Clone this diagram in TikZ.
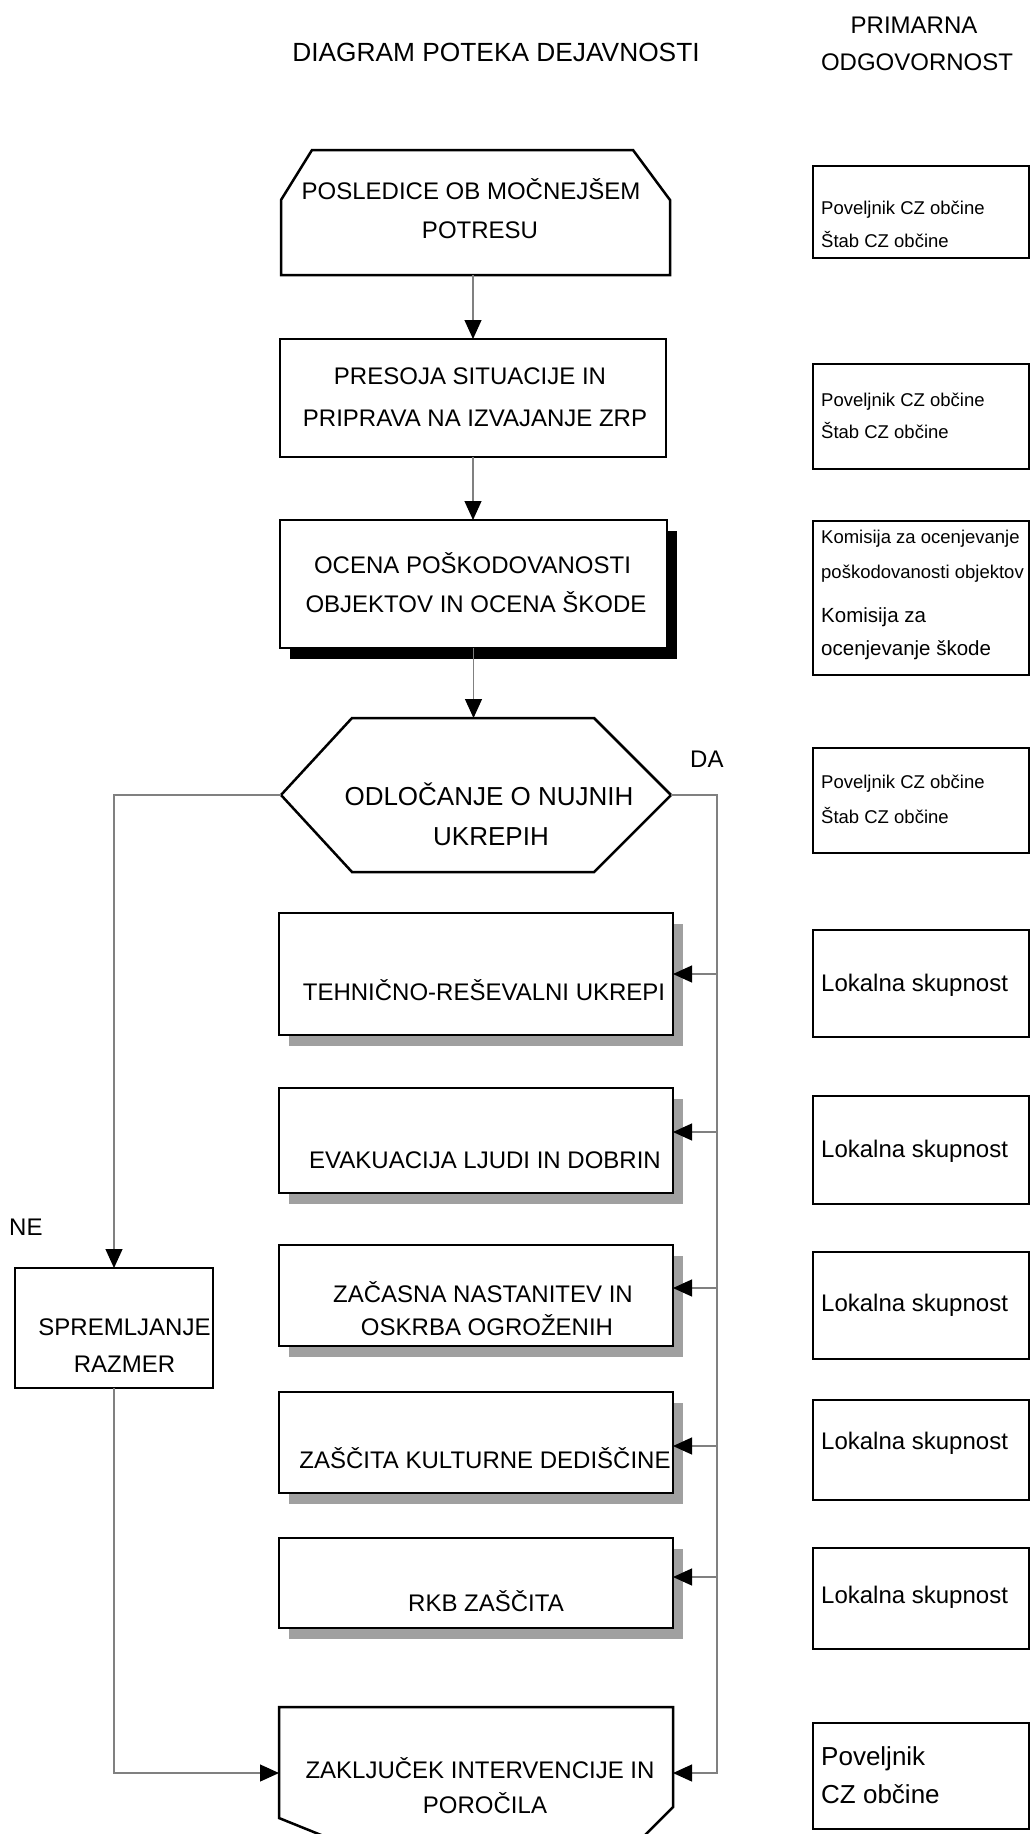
\documentclass[tikz,border=0pt]{standalone}
\usepackage{fontspec}
\setmainfont{Liberation Sans}
\usetikzlibrary{arrows.meta,shadows}
\definecolor{shd}{RGB}{160,160,160}
\definecolor{connc}{RGB}{128,128,128}
\newcommand{\myfs}[1]{\fontsize{#1}{#1}\selectfont}
\begin{document}
\begin{tikzpicture}[x=1pt,y=-1pt,
  ghost/.style={rectangle,inner sep=0pt,outer sep=0pt},
  box/.style={ghost,draw=black,line width=2.5pt,fill=white},
  rbox/.style={ghost,draw=black,line width=2.3pt,minimum width=216pt},
  gshadow/.style={drop shadow={shadow xshift=10pt,shadow yshift=-11pt,fill=shd,opacity=1}},
  bshadow/.style={drop shadow={shadow xshift=10pt,shadow yshift=-11pt,fill=black,opacity=1}},
  shapeline/.style={draw=black,line width=2.5pt,line join=miter,fill=white},
  conn/.style={draw=connc,line width=1.1pt},
  arr/.style={conn,-{Triangle[length=19pt,width=17pt,color=black]}},
  txt/.style={inner sep=0pt,anchor=base,font=\myfs{24}},
  htxt/.style={txt,font=\myfs{26}},
  ttxt/.style={txt,font=\myfs{26.3}},
  ltxt/.style={inner sep=0pt,anchor=base west,font=\myfs{24}},
  stxt/.style={inner sep=0pt,anchor=base west,font=\myfs{18.5}},
  mtxt/.style={inner sep=0pt,anchor=base west,font=\myfs{20.5}},
  btxt/.style={inner sep=0pt,anchor=base west,font=\myfs{26}}
]
\useasboundingbox[fill=white] (0,0) rectangle (1031,1834);

% titles
\node[ttxt] (title) at (496,61) {DIAGRAM POTEKA DEJAVNOSTI};
\node[txt] (prim1) at (914,33.5) {PRIMARNA};
\node[txt] (prim2) at (917,70) {ODGOVORNOST};

% main column
\node[ghost,minimum width=389pt,minimum height=125pt] (n1) at (475.5,212.5) {};
\draw[shapeline] (n1.south west) -- ([yshift=-50pt]n1.north west) -- ([xshift=31pt]n1.north west)
  -- ([xshift=-37pt]n1.north east) -- ([yshift=-50pt]n1.north east) -- (n1.south east) -- cycle;
\node[box,minimum width=386pt,minimum height=118pt] (n2) at (473,398) {};
\node[box,bshadow,minimum width=387pt,minimum height=128pt] (n3) at (473.5,584) {};
\node[ghost,minimum width=390pt,minimum height=154pt] (dec) at (476,795) {};
\draw[shapeline] (dec.west) -- ([xshift=71pt]dec.north west) -- ([xshift=-77pt]dec.north east)
  -- (dec.east) -- ([xshift=-77pt]dec.south east) -- ([xshift=71pt]dec.south west) -- cycle;
\node[box,gshadow,minimum width=394pt,minimum height=122pt] (teh) at (476,974) {};
\node[box,gshadow,minimum width=394pt,minimum height=105pt] (eva) at (476,1140.5) {};
\node[box,gshadow,minimum width=394pt,minimum height=101pt] (zac) at (476,1295.5) {};
\node[box,gshadow,minimum width=394pt,minimum height=101pt] (zas) at (476,1442.5) {};
\node[box,gshadow,minimum width=394pt,minimum height=90pt] (rkb) at (476,1583) {};
\node[ghost,minimum width=394pt,minimum height=132pt] (zak) at (476,1773) {};
\draw[shapeline,fill=none] ([xshift=52pt,yshift=-132pt]zak.north west) -- ([yshift=-111pt]zak.north west)
  -- (zak.north west) -- (zak.north east) -- ([yshift=-100pt]zak.north east)
  -- ([xshift=-32pt,yshift=-132pt]zak.north east);
\node[box,minimum width=198pt,minimum height=120pt] (spr) at (114,1328) {};

% right column
\node[rbox,minimum height=92pt] (r1) at (921,212) {};
\node[rbox,minimum height=105pt] (r2) at (921,416.5) {};
\node[rbox,minimum height=154pt] (r3) at (921,598) {};
\node[rbox,minimum height=105pt] (r4) at (921,800.5) {};
\node[rbox,minimum height=107pt] (r5) at (921,983.5) {};
\node[rbox,minimum height=108pt] (r6) at (921,1150) {};
\node[rbox,minimum height=107pt] (r7) at (921,1305.5) {};
\node[rbox,minimum height=100pt] (r8) at (921,1450) {};
\node[rbox,minimum height=101pt] (r9) at (921,1598.5) {};
\node[rbox,minimum height=106pt] (r10) at (921,1776) {};

% connectors
\coordinate (bus) at (717,795);
\coordinate (evaIn) at ([yshift=8.5pt]eva.east);
\coordinate (zacIn) at ([yshift=7.5pt]zac.east);
\coordinate (zasIn) at ([yshift=-3.5pt]zas.east);
\coordinate (rkbIn) at ([yshift=6pt]rkb.east);
\draw[arr] (n2.north |- n1.south) -- (n2.north);
\draw[arr] (n2.south) -- (n2.south |- n3.north);
\draw[arr] (n3.south) -- (n3.south |- dec.north);
\draw[arr] (dec.east) -- (bus) |- (zak.east);
\draw[arr] (bus |- teh.east) -- (teh.east);
\draw[arr] (bus |- evaIn) -- (evaIn);
\draw[arr] (bus |- zacIn) -- (zacIn);
\draw[arr] (bus |- zasIn) -- (zasIn);
\draw[arr] (bus |- rkbIn) -- (rkbIn);
\draw[arr] (dec.west) -| (spr.north);
\draw[arr] (spr.south) |- (zak.west);

% labels
\node[ltxt] (ne) at (9,1235) {NE};
\node[ltxt] (da) at (690,767) {DA};

% main texts
\node[txt] (t1a) at (471,199) {POSLEDICE OB MOČNEJŠEM};
\node[txt] (t1b) at (480,238) {POTRESU};
\node[txt] (t2a) at (470,384) {PRESOJA SITUACIJE IN};
\node[txt] (t2b) at (475,426) {PRIPRAVA NA IZVAJANJE ZRP};
\node[txt] (t3a) at (472.5,573) {OCENA POŠKODOVANOSTI};
\node[txt] (t3b) at (476,612) {OBJEKTOV IN OCENA ŠKODE};
\node[htxt] (t4a) at (489,805) {ODLOČANJE O NUJNIH};
\node[htxt] (t4b) at (491,845) {UKREPIH};
\node[txt] (t5) at (484,1000) {TEHNIČNO-REŠEVALNI UKREPI};
\node[txt] (t6) at (485,1168) {EVAKUACIJA LJUDI IN DOBRIN};
\node[txt] (t7a) at (483,1302) {ZAČASNA NASTANITEV IN};
\node[txt] (t7b) at (487,1335) {OSKRBA OGROŽENIH};
\node[txt] (t8) at (485,1468) {ZAŠČITA KULTURNE DEDIŠČINE};
\node[txt] (t9) at (486,1611) {RKB ZAŠČITA};
\node[txt] (t10a) at (480,1778) {ZAKLJUČEK INTERVENCIJE IN};
\node[txt] (t10b) at (485,1813) {POROČILA};
\node[txt] (t11a) at (124.5,1335) {SPREMLJANJE};
\node[txt] (t11b) at (124.5,1372) {RAZMER};

% right column texts
\node[stxt] (s1a) at (821,214) {Poveljnik CZ občine};
\node[stxt] (s1b) at (821,247) {Štab CZ občine};
\node[stxt] (s2a) at (821,406) {Poveljnik CZ občine};
\node[stxt] (s2b) at (821,438) {Štab CZ občine};
\node[stxt] (s3a) at (821,543) {Komisija za ocenjevanje};
\node[stxt] (s3b) at (821,578) {poškodovanosti objektov};
\node[mtxt] (s3c) at (821,622) {Komisija za};
\node[mtxt] (s3d) at (821,655) {ocenjevanje škode};
\node[stxt] (s4a) at (821,788) {Poveljnik CZ občine};
\node[stxt] (s4b) at (821,823) {Štab CZ občine};
\node[ltxt] (s5) at (821,991) {Lokalna skupnost};
\node[ltxt] (s6) at (821,1157) {Lokalna skupnost};
\node[ltxt] (s7) at (821,1311) {Lokalna skupnost};
\node[ltxt] (s8) at (821,1449) {Lokalna skupnost};
\node[ltxt] (s9) at (821,1603) {Lokalna skupnost};
\node[btxt] (s10a) at (821,1765) {Poveljnik};
\node[btxt] (s10b) at (821,1803) {CZ občine};
\end{tikzpicture}
\end{document}
